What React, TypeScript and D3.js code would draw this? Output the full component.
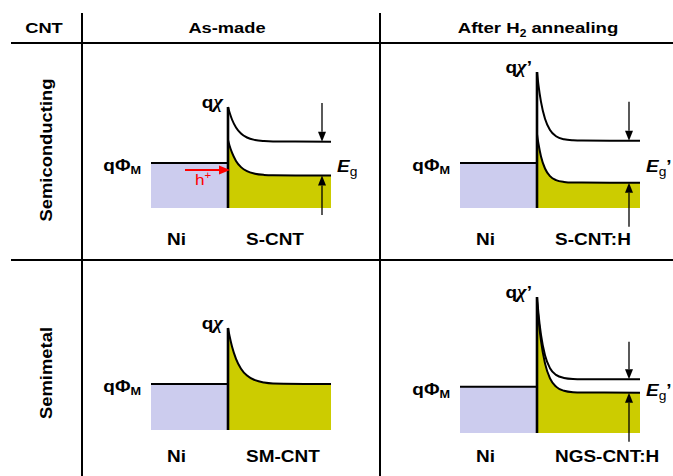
import React from "react";
import * as d3 from "d3";

// ---------- data (energies in arbitrary units above each panel floor) ----------
const HEADER_TITLES = ["CNT", "As-made", "After H", "2", " annealing"];
const ROW_TITLES = ["Semiconducting", "Semimetal"];
const METAL_NAME = "Ni";
const CNT_NAMES = ["S-CNT", "S-CNT:H", "SM-CNT", "NGS-CNT:H"];
const CHI_PRIMES = ["", "’", "", "’"];
const GAP_PRIMES = ["", "’", null, "’"];

// distance from the Ni/CNT interface
const DEPTH = [0, 1.5, 4, 8, 13, 19, 27, 36, 45, 103];
const METAL_LEVEL = [45, 45, 46, 46.3];
const CB_1 = [101, 95.7, 88.5, 80.6, 74.5, 70.5, 68.0, 66.9, 66.5, 66.3];
const VB_1 = [68, 62.5, 55.3, 47.1, 40.9, 36.8, 34.3, 33.1, 32.7, 32.5];
const CB_2 = [136, 122.7, 106.1, 89.2, 78.0, 71.8, 68.7, 67.7, 67.4, 67.3];
const VB_2 = [74, 64.0, 51.6, 39.5, 31.9, 27.9, 26.1, 25.5, 25.4, 25.3];
const BAND_3 = [102, 94.2, 83.5, 71.2, 61.3, 54.4, 49.8, 47.5, 46.6, 46];
const CB_4 = [136, 119.0, 98.1, 77.7, 64.8, 58.1, 55.0, 54.0, 53.8, 53.7];
const VB_4 = [132, 114.3, 92.1, 69.6, 54.6, 46.4, 42.2, 40.8, 40.5, 40.3];
const CB = [CB_1, CB_2, BAND_3, CB_4];
const VB = [VB_1, VB_2, null, VB_4];
const GAP_ARROW_TOP = [105, 106.3, null, 91.3];
const GAP_ARROW_BOTTOM = [-7, -18.7, null, -8.7];
const HOLE_ARROW = { from: -43, to: 2, energy: 38 };

// ---------- layout ----------
const W = 673;
const H = 476;
const FONT = "'Liberation Sans', Arial, Helvetica, sans-serif";
const SERIF = "'Liberation Serif', 'Times New Roman', serif";
const SX = 1.15;
const PANEL_COL = [0, 1, 0, 1];
const PANEL_ROW = [0, 0, 1, 1];
const COL_RANGE: [number, number][] = [
  [151, 331],
  [460, 640],
];
const PANEL_FLOOR = [208, 208, 430, 433];
const ROW_LABEL_BASE = [245, 462];
const ARROW_DEPTH = [94, 92];
const YELLOW = "#cccc00";
const LAVENDER = "#ccccee";

function T(props: any) {
  const {
    x,
    y,
    size = 16.5,
    anchor = "start",
    fill = "#000",
    weight = "bold",
    rotate = 0,
    sx = SX,
    children,
  } = props;
  return (
    <text
      transform={`translate(${x},${y}) rotate(${rotate}) scale(${sx},1)`}
      fontSize={size}
      textAnchor={anchor}
      fill={fill}
      fontWeight={weight}
      fontFamily={FONT}
    >
      {children}
    </text>
  );
}

function VArrow({ x, y0, y1 }: { x: number; y0: number; y1: number }) {
  const dir = Math.sign(y1 - y0);
  const hl = 10;
  const hw = 4;
  return (
    <g>
      <line x1={x} x2={x} y1={y0} y2={y1 - dir * hl} stroke="#000" strokeWidth={1.3} />
      <path d={`M${x},${y1} L${x - hw},${y1 - dir * hl} L${x + hw},${y1 - dir * hl} Z`} fill="#000" />
    </g>
  );
}

function Panel({ i }: { i: number }) {
  const col = PANEL_COL[i];
  const row = PANEL_ROW[i];
  const x = d3.scaleLinear().domain([-77, 103]).range(COL_RANGE[col]);
  const floor = PANEL_FLOOR[i];
  const y = d3.scaleLinear().domain([0, 140]).range([floor, floor - 140]);
  const cb = CB[i];
  const vb = VB[i];
  const pts = (arr: number[]) => DEPTH.map((d, k) => [d, arr[k]] as [number, number]);
  const line = d3
    .line<[number, number]>()
    .x((d) => x(d[0]))
    .y((d) => y(d[1]))
    .curve(d3.curveMonotoneX);
  const area = d3
    .area<[number, number]>()
    .x((d) => x(d[0]))
    .y0(y(0))
    .y1((d) => y(d[1]))
    .curve(d3.curveMonotoneX);
  const lower = vb ?? cb;
  const metal = METAL_LEVEL[i];
  const cbTop = cb[0];
  const ax = x(ARROW_DEPTH[col]);
  const gp = GAP_PRIMES[i];
  return (
    <g>
      {/* Ni */}
      <rect x={x(-77)} y={y(metal)} width={x(0) - x(-77)} height={y(0) - y(metal)} fill={LAVENDER} />
      <line x1={x(-77)} x2={x(0)} y1={y(metal)} y2={y(metal)} stroke="#000" strokeWidth={2} />
      {/* CNT filled band */}
      <path d={area(pts(lower)) || ""} fill={YELLOW} />
      {vb && <path d={line(pts(vb)) || ""} fill="none" stroke="#000" strokeWidth={2} />}
      <path d={line(pts(cb)) || ""} fill="none" stroke="#000" strokeWidth={2} />
      {/* interface */}
      <line x1={x(0)} x2={x(0)} y1={y(0)} y2={y(cbTop)} stroke="#000" strokeWidth={2.6} />
      {/* gap arrows */}
      {GAP_ARROW_TOP[i] !== null && vb && (
        <>
          <VArrow x={ax} y0={y(GAP_ARROW_TOP[i] as number)} y1={y(cb[cb.length - 1])} />
          <VArrow x={ax} y0={y(GAP_ARROW_BOTTOM[i] as number)} y1={y(vb[vb.length - 1])} />
        </>
      )}
      {/* hole injection */}
      {i === 0 && (
        <g>
          <line
            x1={x(HOLE_ARROW.from)}
            x2={x(HOLE_ARROW.to) - 10}
            y1={y(HOLE_ARROW.energy)}
            y2={y(HOLE_ARROW.energy)}
            stroke="#ff0000"
            strokeWidth={2}
          />
          <path
            d={`M${x(HOLE_ARROW.to)},${y(HOLE_ARROW.energy)} L${x(HOLE_ARROW.to) - 11},${y(HOLE_ARROW.energy) - 4.5} L${x(HOLE_ARROW.to) - 11},${y(HOLE_ARROW.energy) + 4.5} Z`}
            fill="#ff0000"
          />
          <T x={x(HOLE_ARROW.from) + 10} y={y(HOLE_ARROW.energy) + 15} size={15} fill="#ff0000" weight="normal">
            h<tspan fontSize={10} dy={-6}>+</tspan>
          </T>
        </g>
      )}
      {/* labels */}
      <T x={x(0) - 5} y={y(cbTop) + 1} anchor="end">
        q<tspan fontFamily={SERIF} fontStyle="italic" fontSize={18}>χ</tspan>
        {CHI_PRIMES[i]}
      </T>
      <T x={x(-77) - 10} y={y(metal) + 8} anchor="end">
        qΦ<tspan fontSize={11} dy={3}>M</tspan>
      </T>
      {gp !== null && (
        <T x={x(103) + 6} y={y(metal) + 9}>
          <tspan fontStyle="italic">E</tspan>
          <tspan fontSize={12} dy={4} fontWeight="normal">g</tspan>
          <tspan dy={-4}>{gp}</tspan>
        </T>
      )}
      <T x={x(-61)} y={ROW_LABEL_BASE[row]}>
        {METAL_NAME}
      </T>
      <T x={x(18)} y={ROW_LABEL_BASE[row]}>
        {CNT_NAMES[i]}
      </T>
    </g>
  );
}

export default function App() {
  return (
    <svg
      width={W}
      height={H}
      viewBox={`0 0 ${W} ${H}`}
      style={{ position: "absolute", left: 0, top: 0, background: "#fff" }}
    >
      <rect x={0} y={0} width={W} height={H} fill="#fff" />
      {/* table grid */}
      <line x1={11} x2={W} y1={43} y2={43} stroke="#000" strokeWidth={2} />
      <line x1={11} x2={W} y1={260} y2={260} stroke="#000" strokeWidth={2} />
      <line x1={82} x2={82} y1={13} y2={H} stroke="#000" strokeWidth={2} />
      <line x1={380} x2={380} y1={13} y2={H} stroke="#000" strokeWidth={2} />
      {/* headers */}
      <T x={44} y={33} size={15.5} anchor="middle" sx={1.18}>
        {HEADER_TITLES[0]}
      </T>
      <T x={227} y={33} size={15.5} anchor="middle" sx={1.18}>
        {HEADER_TITLES[1]}
      </T>
      <T x={538} y={33} size={15.5} anchor="middle" sx={1.2}>
        {HEADER_TITLES[2]}
        <tspan fontSize={10} dy={4}>
          {HEADER_TITLES[3]}
        </tspan>
        <tspan dy={-4}>{HEADER_TITLES[4]}</tspan>
      </T>
      <T x={51.5} y={150} size={16} anchor="middle" rotate={-90} sx={1.15}>
        {ROW_TITLES[0]}
      </T>
      <T x={51.5} y={373} size={16} anchor="middle" rotate={-90} sx={1.15}>
        {ROW_TITLES[1]}
      </T>
      {[0, 1, 2, 3].map((i) => (
        <Panel key={i} i={i} />
      ))}
    </svg>
  );
}
